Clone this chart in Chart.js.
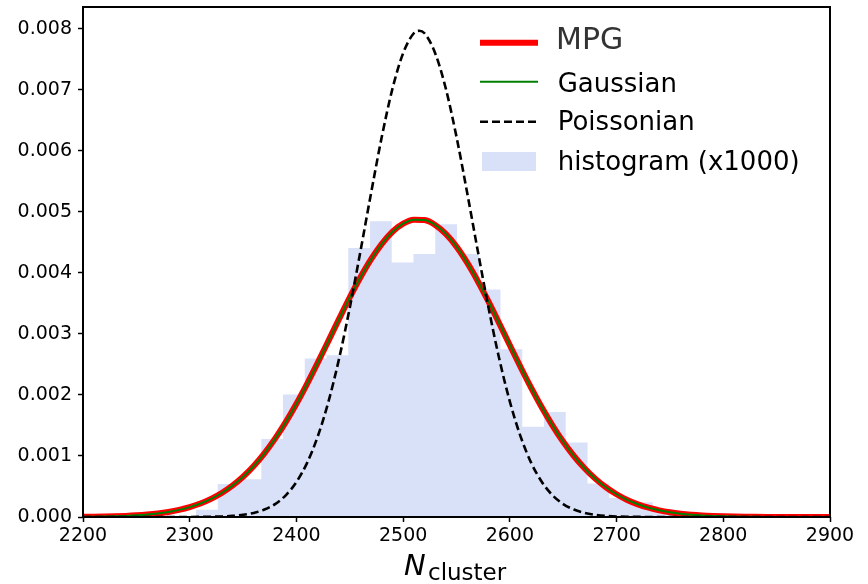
<!doctype html>
<html lang="en">
<head>
    <meta charset="utf-8">
    <title>N_cluster distribution</title>
    <script src="https://cdn.jsdelivr.net/npm/chart.js"></script>
    <style>
        body {
            background-color: #ffffff;
            margin: 0;
            padding: 0;
        }
        canvas {
            display: block;
        }
    </style>
</head>
<body>
    <canvas id="clusterChart" width="868" height="584"></canvas>
    <script>
        // tick positions
        const xTicks = [2200, 2300, 2400, 2500, 2600, 2700, 2800, 2900];
        const yTicks = [0, 0.001, 0.002, 0.003, 0.004, 0.005, 0.006, 0.007, 0.008];

        // histogram (x1000): bin edges and heights
        const binEdges = [2305.9, 2326.3, 2346.7, 2367.1, 2387.4, 2407.8, 2428.2, 2448.6, 2469.0,
            2489.3, 2509.7, 2530.1, 2550.5, 2570.9, 2591.2, 2611.6, 2632.0, 2652.4, 2672.8,
            2693.1, 2713.5, 2733.9, 2754.3, 2774.7, 2795.1];
        const binHeights = [0.00012, 0.00054, 0.00062, 0.00128, 0.00201, 0.00260, 0.00265, 0.00441,
            0.00485, 0.00417, 0.00431, 0.00480, 0.00431, 0.00373, 0.00275, 0.00148, 0.00172,
            0.00122, 0.00055, 0.00031, 0.00024, 0.00009, 0.00007, 0.00005];

        // sample grid for the fitted curves (every 10 counts)
        const curveX = Array.from({ length: 71 }, (_, i) => 2200 + 10 * i);

        const gaussY = [
            0.0000032, 0.0000051, 0.0000079, 0.0000121, 0.0000183, 0.0000274, 0.0000403, 0.0000583, 0.0000832, 0.000117,
            0.000162, 0.000221, 0.000297, 0.000393, 0.000514, 0.000660, 0.000836, 0.001044, 0.001284, 0.001555,
            0.001856, 0.002183, 0.002530, 0.002888, 0.003248, 0.003599, 0.003929, 0.004226, 0.004478, 0.004676,
            0.004809, 0.004874, 0.004867, 0.004788, 0.004641, 0.004432, 0.004169, 0.003865, 0.003530, 0.003176,
            0.002815, 0.002459, 0.002116, 0.001794, 0.001499, 0.001233, 0.001000, 0.000799, 0.000629, 0.000488,
            0.000373, 0.000280, 0.000208, 0.000152, 0.000109, 0.0000775, 0.0000542, 0.0000373, 0.0000253, 0.0000169,
            0.0000111, 0.0000072, 0.0000046, 0.0000029, 0.0000018, 0.0000011, 0.0000007, 0.0000004, 0.0000002, 0.0000001,
            0.0000001
        ];
        // MPG and Gaussian fits overlap to within the line width
        const mpgY = gaussY;

        const poisX = [2200, 2290, 2300, 2310, 2320, 2330, 2340, 2350, 2360, 2370, 2380, 2390,
            2400, 2410, 2420, 2430, 2440, 2450, 2460, 2470, 2480, 2490, 2500, 2510, 2515, 2520,
            2530, 2540, 2550, 2560, 2570, 2580, 2590, 2600, 2610, 2620, 2630, 2640, 2650, 2660,
            2670, 2680, 2690, 2700, 2710, 2720, 2730, 2740, 2900];
        const poisY = [0, 0.0000003, 0.0000008, 0.0000019, 0.0000041, 0.0000088, 0.0000180, 0.0000355,
            0.0000670, 0.000122, 0.000212, 0.000356, 0.000574, 0.000888, 0.001322, 0.001891, 0.002598,
            0.003432, 0.004357, 0.005315, 0.006232, 0.007021, 0.007603, 0.007930, 0.007970, 0.007930,
            0.007603, 0.007021, 0.006232, 0.005315, 0.004357, 0.003432, 0.002598, 0.001891, 0.001322,
            0.000888, 0.000574, 0.000356, 0.000212, 0.000122, 0.0000670, 0.0000355, 0.0000180,
            0.0000088, 0.0000041, 0.0000019, 0.0000008, 0.0000003, 0];

        const toPoints = (xs, ys) => xs.map((x, i) => ({ x: x, y: ys[i] }));

        // stepped outline: each bin's height holds from its left edge to the next edge
        const histPoints = binEdges.map((x, i) => ({ x: x, y: i < binHeights.length ? binHeights[i] : 0 }));

        const histColor = 'rgba(65, 105, 225, 0.2)';

        Chart.defaults.font.family = 'DejaVu Sans';
        Chart.defaults.color = '#000';

        const legendItems = [
            { label: 'MPG', type: 'line', color: '#ff0000', width: 6, dash: [], font: '30px DejaVu Sans', textColor: '#333333', lineY: 42.7, baseY: 49.3, textX: 556 },
            { label: 'Gaussian', type: 'line', color: '#008000', width: 2, dash: [], font: '26px DejaVu Sans', textColor: '#000', lineY: 81.7, baseY: 91.7, textX: 557.7 },
            { label: 'Poissonian', type: 'line', color: '#000000', width: 2.6, dash: [8, 4], font: '26px DejaVu Sans', textColor: '#000', lineY: 121.7, baseY: 130, textX: 557.7 },
            { label: 'histogram (x1000)', type: 'box', color: histColor, font: '26px DejaVu Sans', textColor: '#000', lineY: 161, baseY: 170, textX: 557.7 }
        ];

        const framePlugin = {
            id: 'frame',
            afterDatasetsDraw(chart) {
                const { ctx, chartArea } = chart;
                ctx.save();
                ctx.strokeStyle = '#000';
                ctx.lineWidth = 2;
                ctx.strokeRect(chartArea.left, chartArea.top, chartArea.right - chartArea.left, chartArea.bottom - chartArea.top);
                ctx.restore();
            },
            afterDraw(chart) {
                const ctx = chart.ctx;
                ctx.save();
                // legend
                legendItems.forEach(item => {
                    if (item.type === 'line') {
                        ctx.strokeStyle = item.color;
                        ctx.lineWidth = item.width;
                        ctx.setLineDash(item.dash);
                        ctx.beginPath();
                        ctx.moveTo(480, item.lineY);
                        ctx.lineTo(538, item.lineY);
                        ctx.stroke();
                        ctx.setLineDash([]);
                    } else {
                        ctx.fillStyle = item.color;
                        ctx.fillRect(482, 152, 54, 19);
                    }
                    ctx.font = item.font;
                    ctx.fillStyle = item.textColor;
                    ctx.textAlign = 'left';
                    ctx.textBaseline = 'alphabetic';
                    ctx.fillText(item.label, item.textX, item.baseY);
                });
                // x axis title with subscript
                ctx.fillStyle = '#000';
                ctx.font = 'italic 29px DejaVu Sans';
                ctx.fillText('N', 404, 575);
                ctx.font = '23px DejaVu Sans';
                ctx.fillText('cluster', 428, 580);
                ctx.restore();
            }
        };

        const lineDefaults = { pointRadius: 0, fill: false, cubicInterpolationMode: 'monotone' };

        const noEdgePadding = scale => {
            scale.paddingTop = 0;
            scale.paddingBottom = 0;
            scale.paddingLeft = 0;
            scale.paddingRight = 0;
        };

        const clusterChart = new Chart(document.getElementById('clusterChart').getContext('2d'), {
            type: 'line',
            data: {
                datasets: [
                    Object.assign({ label: 'Poissonian', data: toPoints(poisX, poisY), borderColor: '#000', borderWidth: 2.6, borderDash: [8, 4], order: 0 }, lineDefaults),
                    Object.assign({ label: 'Gaussian', data: toPoints(curveX, gaussY), borderColor: '#008000', borderWidth: 2, order: 1 }, lineDefaults),
                    Object.assign({ label: 'MPG', data: toPoints(curveX, mpgY), borderColor: '#ff0000', borderWidth: 6, order: 2 }, lineDefaults),
                    {
                        label: 'histogram (x1000)',
                        data: histPoints,
                        stepped: 'before',
                        borderWidth: 0,
                        borderColor: 'rgba(0,0,0,0)',
                        backgroundColor: histColor,
                        fill: 'origin',
                        pointRadius: 0,
                        order: 3
                    }
                ]
            },
            options: {
                responsive: false,
                animation: false,
                layout: { padding: { top: 7, right: 38, left: 0, bottom: 0 } },
                plugins: {
                    legend: { display: false },
                    tooltip: { enabled: false }
                },
                scales: {
                    x: {
                        type: 'linear',
                        min: 2200,
                        max: 2900,
                        afterBuildTicks: scale => { scale.ticks = xTicks.map(v => ({ value: v })); },
                        afterFit: scale => { scale.height = 67; noEdgePadding(scale); },
                        grid: { display: true, drawOnChartArea: false, drawTicks: true, tickLength: 5, tickWidth: 1.5, tickColor: '#000' },
                        border: { display: false },
                        ticks: { font: { size: 19 }, color: '#000', padding: 3, maxRotation: 0, callback: v => v }
                    },
                    y: {
                        min: 0,
                        max: 0.00836,
                        afterBuildTicks: scale => { scale.ticks = yTicks.map(v => ({ value: v })); },
                        afterFit: scale => { scale.width = 83; noEdgePadding(scale); },
                        grid: { display: true, drawOnChartArea: false, drawTicks: true, tickLength: 5, tickWidth: 1.5, tickColor: '#000' },
                        border: { display: false },
                        ticks: { font: { size: 19 }, color: '#000', padding: 6, callback: v => v.toFixed(3) }
                    }
                }
            },
            plugins: [framePlugin]
        });
    </script>
</body>
</html>
